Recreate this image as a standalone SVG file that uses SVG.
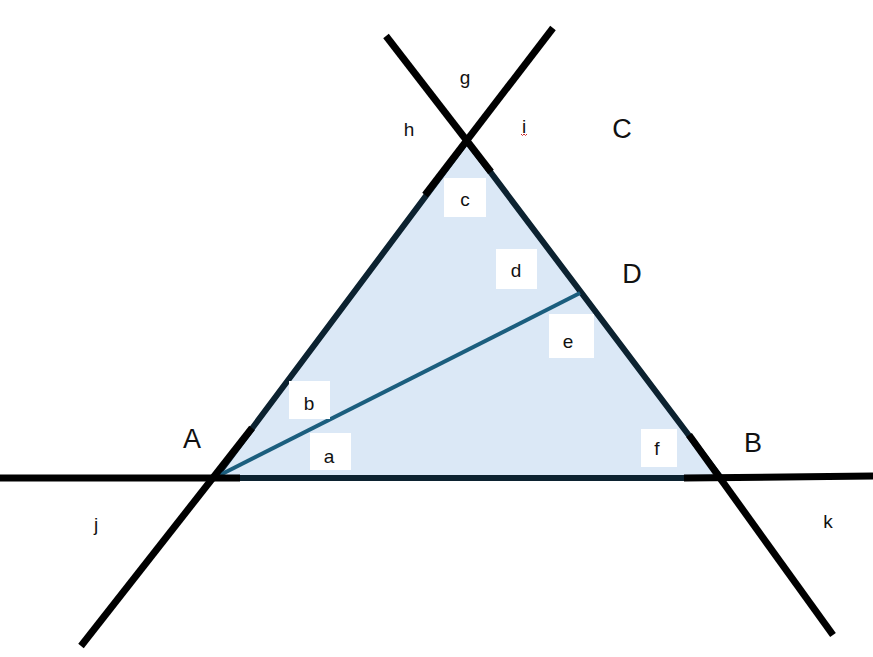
<svg xmlns="http://www.w3.org/2000/svg" width="873" height="657" viewBox="0 0 873 657">
<style>
.blk{stroke:#000;stroke-width:7;stroke-linecap:butt;fill:none}
.box{fill:#fff}
.s{font-family:"Liberation Sans",Arial,sans-serif;font-size:19px;fill:#111;text-anchor:middle}
.L{font-family:"Liberation Sans",Arial,sans-serif;font-size:27px;fill:#111;text-anchor:middle}
</style>
<rect width="873" height="657" fill="#fff"/>
<g id="triangle">
<polygon points="215,478 467,141 721,478" fill="#dbe8f6" stroke="#0c2230" stroke-width="6" stroke-linejoin="miter"/>
</g>
<g id="connectors">
<line x1="218" y1="476" x2="580" y2="293" stroke="#1b5e7e" stroke-width="4"/>
<line class="blk" x1="0" y1="478" x2="240" y2="478"/>
<line class="blk" x1="684" y1="478" x2="873" y2="476"/>
<line class="blk" x1="386" y1="36" x2="491" y2="172"/>
<line class="blk" x1="553" y1="28" x2="425" y2="195"/>
<line class="blk" x1="252" y1="428" x2="81" y2="646"/>
<line class="blk" x1="689" y1="435" x2="833" y2="635"/>
</g>
<g id="boxes">
<rect class="box" x="444" y="178" width="42" height="39"/>
<rect class="box" x="496" y="249" width="41" height="40"/>
<rect class="box" x="549" y="314" width="45" height="44"/>
<rect class="box" x="289" y="381" width="41" height="38"/>
<rect class="box" x="310" y="433" width="41" height="37"/>
<rect class="box" x="641" y="429" width="36" height="38"/>
</g>
<g id="labels">
<text class="s" x="465" y="84">g</text>
<text class="s" x="409" y="136">h</text>
<text class="s" x="524" y="133">i</text>
<path d="M521,134 q1.5,3 3,0 q1.5,3 3,0" stroke="#d03030" stroke-width="1" fill="none"/>
<text class="L" x="622" y="138">C</text>
<text class="s" x="465" y="206">c</text>
<text class="s" x="516" y="277">d</text>
<text class="L" x="632" y="283">D</text>
<text class="s" x="568" y="348">e</text>
<text class="s" x="309" y="410">b</text>
<text class="L" x="192" y="448">A</text>
<text class="s" x="329" y="463">a</text>
<text class="s" x="657" y="455">f</text>
<text class="L" x="753" y="452">B</text>
<text class="s" x="96" y="531">j</text>
<text class="s" x="828" y="528">k</text>
</g>
</svg>
